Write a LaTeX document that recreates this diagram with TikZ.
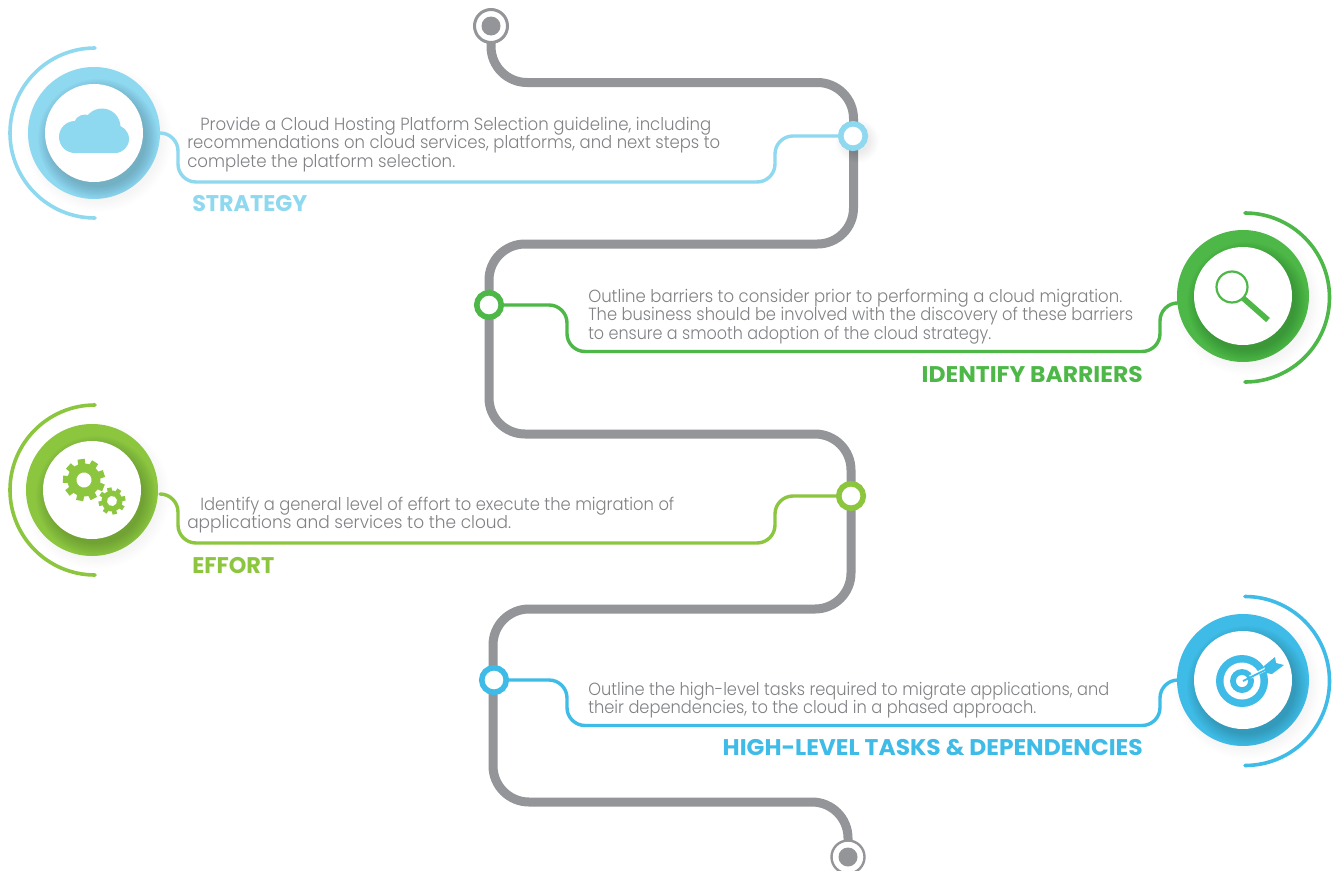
\documentclass[tikz,border=0pt]{standalone}
\usepackage{fontspec}
\usepackage{graphicx}
\usetikzlibrary{calc}
\newfontfamily\bodyf{Poppins Light}
\newfontfamily\headf{Poppins Bold}
\newdimen\pxu \pxu=0.75pt
\definecolor{cCyan}{HTML}{8ED8F0}
\definecolor{cGreen}{HTML}{4DB848}
\definecolor{cLime}{HTML}{8CC63F}
\definecolor{cBlue}{HTML}{3EBBE6}
\definecolor{cGrey}{HTML}{939598}
\definecolor{cText}{HTML}{808285}
\newcommand\fitw[2]{\resizebox{#1\pxu}{\height}{#2}}
\newcommand\lineblock[1]{\vtop{\baselineskip=13.9pt\lineskiplimit=-20pt\lineskip=0pt #1}}
\newcommand\oneline[2]{\hbox{\fitw{#1}{#2}}}
\newcommand\indline[2]{\hbox{\kern9.75pt\fitw{#1}{#2}}}
\tikzset{
  spine/.style={draw=cGrey,line width=9\pxu,rounded corners=36\pxu},
  conn/.style={line width=3.4\pxu,rounded corners=18\pxu,line cap=round},
  arcline/.style={line width=3.6\pxu,line cap=round},
  hub/.style={circle,minimum size=132\pxu,inner sep=0pt},
  inner disc/.style={circle,fill=white,minimum size=98\pxu,inner sep=0pt},
  waypoint/.style={circle,fill=white,line width=5.6\pxu,minimum size=24.5\pxu,inner sep=0pt},
  capdot/.style={circle,draw=cGrey,fill=white,line width=3\pxu,minimum size=33\pxu,inner sep=0pt},
  capcore/.style={circle,fill=cGrey,minimum size=19\pxu,inner sep=0pt},
  bodytxt/.style={anchor=base west,inner sep=0pt,text=cText,
    font=\bodyf\fontsize{13.2pt}{13.9pt}\selectfont},
  headtxt/.style={inner sep=0pt,font=\headf\fontsize{17pt}{20pt}\selectfont},
}
% #1 x, #2 y, #3 colour, #4 hub name : soft shadow + ring + inner disc
\newcommand\hubdraw[4]{%
  \foreach \k in {0,...,9}
    \fill[black,opacity=.004] (#1+4,#2+5) circle ({74-\k*1.2});
  \node[hub,fill=#3] (#4) at (#1,#2) {};
  \begin{scope}
    \clip (#1,#2) circle (66);
    \foreach \k in {0,...,10}
      \fill[black,opacity=.016] (#1+4,#2+6) circle ({48+\k*1.2});
  \end{scope}
  \node[inner disc] (#4i) at (#1,#2) {};
}
\begin{document}
\begin{tikzpicture}[x=0.75pt,y=-0.75pt]
\useasboundingbox (0,0) rectangle (1336,871);
\fill[white] (0,0) rectangle (1336,871);

% spine way-points
\coordinate (capTc) at (491,26);
\coordinate (capBc) at (848,857);
\coordinate (s1) at (491,82.5);
\coordinate (s2) at (853.5,82.5);
\coordinate (s3) at (853.5,244);
\coordinate (s4) at (489,244);
\coordinate (s5) at (489,434);
\coordinate (s6) at (851,434);
\coordinate (s7) at (851,609);
\coordinate (s8) at (493,609);
\coordinate (s9) at (493,802);
\coordinate (s10) at (848,802);
\draw[spine] (capTc) -- (s1) -- (s2) -- (s3) -- (s4) -- (s5) -- (s6) -- (s7) -- (s8) -- (s9) -- (s10) -- (capBc);

% shadow under the first way-point
\foreach \k in {0,...,9}
  \fill[black,opacity=.008] (857,141) circle ({22-\k*1.1});

% connector coordinates
\coordinate (dS) at (853,136);
\coordinate (dB) at (489,305);
\coordinate (dE) at (851,496);
\coordinate (dH) at (494,680);

% hubs
\hubdraw{94}{133}{cCyan}{hubS}
\hubdraw{1243}{296}{cGreen}{hubB}
\hubdraw{92}{490}{cLime}{hubE}
\hubdraw{1243}{680}{cBlue}{hubH}

% connectors
\coordinate (cS1) at (178,182); \coordinate (cS2) at (775,182);
\coordinate (cB1) at (567,351.5); \coordinate (cB2) at (1160,351.5);
\coordinate (cE1) at (178,543); \coordinate (cE2) at (775,543);
\coordinate (cH1) at (567,725.5); \coordinate (cH2) at (1160,725.5);
\coordinate (cEs) at (160,494);
\draw[conn,cCyan] (hubS.east) -| (cS1) -- (cS2) |- (dS);
\draw[conn,cGreen] (dB) -| (cB1) -- (cB2) |- (hubB.186);
\draw[conn,cLime] (cEs) -| (cE1) -- (cE2) |- (dE);
\draw[conn,cBlue] (dH) -| (cH1) -- (cH2) |- (hubH.west);

% end caps
\node[capdot] (capT) at (capTc) {};
\node[capcore] (capTi) at (capTc) {};
\node[capdot,line width=2.4\pxu] (capB) at (capBc) {};
\node[capcore] (capBi) at (capBc) {};

% way-points
\node[waypoint,draw=cCyan] (wS) at (dS) {};
\node[waypoint,draw=cGreen] (wB) at (dB) {};
\node[waypoint,draw=cLime] (wE) at (dE) {};
\node[waypoint,draw=cBlue] (wH) at (dH) {};

% outer arcs
\draw[arcline,cCyan] (95,48) arc[start angle=-90,delta angle=-180,radius=85];
\draw[arcline,cLime] (95,405) arc[start angle=-90,delta angle=-180,radius=85];
\draw[arcline,cGreen] (1245,213) arc[start angle=-90,delta angle=180,radius=84.5];
\draw[arcline,cBlue] (1245,596.5) arc[start angle=-90,delta angle=180,radius=84.5];

% cloud icon
\begin{scope}[cCyan]
  \fill (75,137) circle (16);
  \fill (85,126) circle (11.5);
  \fill (102,127) circle (18.5);
  \fill (115,139) circle (14);
  \fill (75,136) rectangle (115,153);
  \fill (84,125) rectangle (112,140);
\end{scope}

% magnifier icon
\draw[cGreen,line width=2.2\pxu] (1232,287) circle (15.5);
\draw[cGreen,line width=5.6\pxu] (1243,298) -- (1268,320);

% gears icon
\begin{scope}[shift={(84,480)},rotate=8]
  \fill[cLime] (0,0) circle (16.5);
  \foreach \a in {0,40,...,320}
    \fill[cLime,rotate=\a] (-3.6,-21) rectangle (3.6,-14);
  \fill[white] (0,0) circle (7.5);
\end{scope}
\begin{scope}[shift={(112,501)},rotate=12]
  \fill[cLime] (0,0) circle (10.5);
  \foreach \a in {0,45,...,315}
    \fill[cLime,rotate=\a] (-2.3,-13.5) rectangle (2.3,-9);
  \fill[white] (0,0) circle (5);
\end{scope}

% target icon
\fill[cBlue] (1242,681) circle (26);
\fill[white] (1242,681) circle (18.5);
\fill[cBlue] (1242,681) circle (12);
\fill[white] (1242,681) circle (6);
\draw[white,line width=3.5\pxu] (1250,677) -- (1270,667);
\draw[cBlue,line width=1.8\pxu] (1243,681) -- (1267,669);
\fill[cBlue] (1264,666) -- (1275,657) -- (1276,663) -- (1284,665) -- (1272,674) -- (1266,673) -- cycle;

% texts
\node[bodytxt] (tS) at (187,130) {\lineblock{\indline{511}{Provide a Cloud Hosting Platform Selection guideline, including}
\oneline{533}{recommendations on cloud services, platforms, and next steps to}
\oneline{268}{complete the platform selection.}}};
\node[bodytxt] (tB) at (588,302) {\lineblock{\oneline{534}{Outline barriers to consider prior to performing a cloud migration.}
\oneline{545}{The business should be involved with the discovery of these barriers}
\oneline{403}{to ensure a smooth adoption of the cloud strategy.}}};
\node[bodytxt] (tE) at (187,510) {\lineblock{\indline{474}{Identify a general level of effort to execute the migration of}
\oneline{324}{applications and services to the cloud.}}};
\node[bodytxt] (tH) at (588,695) {\lineblock{\oneline{521}{Outline the high-level tasks required to migrate applications, and}
\oneline{448}{their dependencies, to the cloud in a phased approach.}}};

\node[headtxt,anchor=base west,text=cCyan] (hS) at (192,211) {\fitw{115}{STRATEGY}};
\node[headtxt,anchor=base east,text=cGreen] (hB) at (1143,382) {\fitw{221}{IDENTIFY BARRIERS}};
\node[headtxt,anchor=base west,text=cLime] (hE) at (192,573) {\fitw{82}{EFFORT}};
\node[headtxt,anchor=base east,text=cBlue] (hH) at (1143,755) {\fitw{420}{HIGH-LEVEL TASKS \& DEPENDENCIES}};
\end{tikzpicture}
\end{document}
